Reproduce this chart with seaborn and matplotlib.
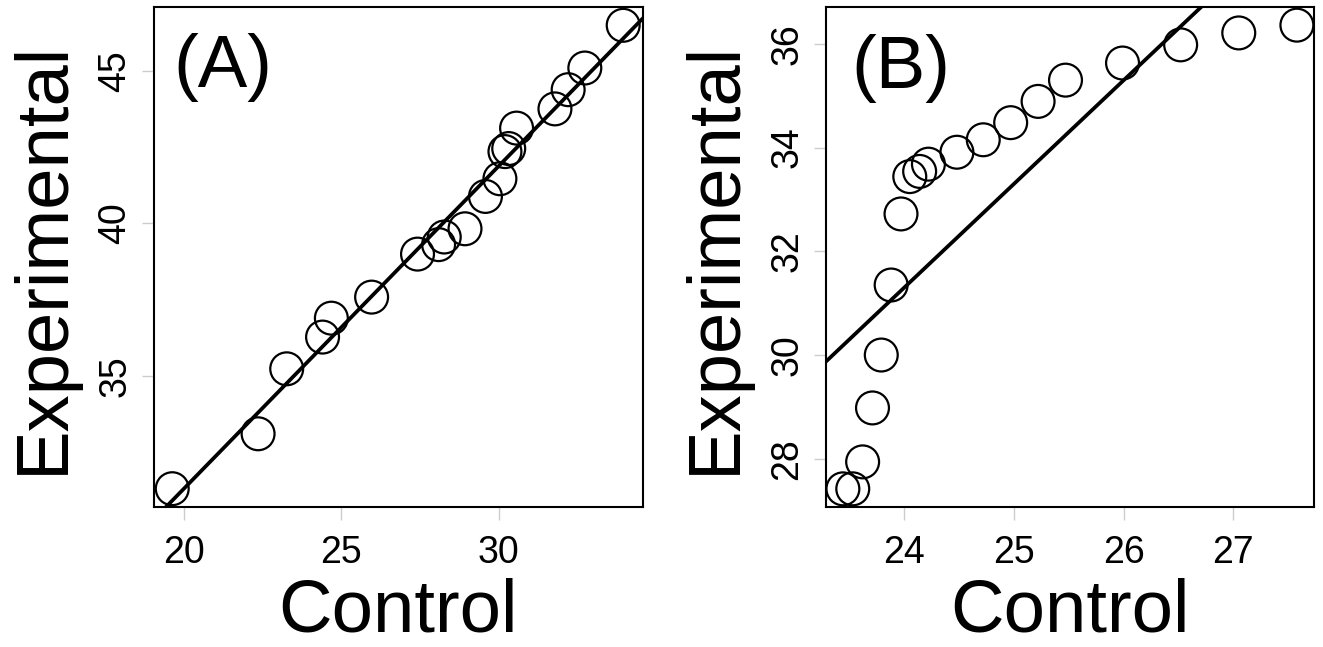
import matplotlib
matplotlib.use("Agg")
import matplotlib.pyplot as plt
import seaborn as sns
import numpy as np

# ---- data ----
A_control = [19.62, 22.35, 23.26, 24.40, 24.68, 25.96, 27.42, 28.09, 28.27, 28.93,
             29.58, 30.04, 30.20, 30.32, 30.57, 31.79, 32.21, 32.74, 33.96]
A_experimental = [31.30, 33.10, 35.23, 36.27, 36.89, 37.58, 38.99, 39.30, 39.55, 39.82,
                  40.88, 41.46, 42.35, 42.45, 43.12, 43.75, 44.38, 45.09, 46.49]
B_control = [23.44, 23.53, 23.62, 23.71, 23.79, 23.88, 23.97, 24.05, 24.14, 24.22,
             24.48, 24.72, 24.97, 25.22, 25.47, 25.99, 26.52, 27.05, 27.58]
B_experimental = [27.42, 27.42, 27.94, 28.98, 30.00, 31.35, 32.72, 33.44, 33.54, 33.68,
                  33.91, 34.15, 34.48, 34.89, 35.30, 35.63, 35.98, 36.21, 36.36]

A_xticks = [20, 25, 30]
A_yticks = [35, 40, 45]
B_xticks = [24, 25, 26, 27]
B_yticks = [28, 30, 32, 34, 36]
A_xlim = (19.04, 34.59)
A_ylim = (30.70, 47.09)
B_xlim = (23.286, 27.736)
B_ylim = (27.07, 36.71)
panel_labels = ["(A)", "(B)"]
x_label = "Control"
y_label = "Experimental"

sns.set_theme(style="white")
plt.rcParams["font.family"] = ["Liberation Sans", "DejaVu Sans"]

W, H = 1323, 647
fig = plt.figure(figsize=(W / 100, H / 100), dpi=100)


def px_axes(left, right, top, bottom):
    return fig.add_axes([left / W, 1 - bottom / H, (right - left) / W, (bottom - top) / H])


axA = px_axes(154, 643, 7, 507)
axB = px_axes(826, 1314, 7, 507)

panels = [
    (axA, A_control, A_experimental, A_xticks, A_yticks, A_xlim, A_ylim, panel_labels[0], (0.039, 0.84)),
    (axB, B_control, B_experimental, B_xticks, B_yticks, B_xlim, B_ylim, panel_labels[1], (0.053, 0.838)),
]

for ax, xs, ys, xt, yt, xl, yl, lab, pos in panels:
    ax.set_xlim(*xl)
    ax.set_ylim(*yl)
    sns.regplot(x=np.array(xs), y=np.array(ys), ax=ax, ci=None, truncate=False,
                scatter_kws=dict(color="black", facecolors="none", s=560,
                                 linewidths=1.6, alpha=1, zorder=3),
                line_kws=dict(color="black", lw=2.7, zorder=2))
    ax.set_xlim(*xl)
    ax.set_ylim(*yl)
    ax.set_xticks(xt)
    ax.set_yticks(yt)
    ax.set_xticklabels([str(v) for v in xt])
    ax.set_yticklabels([str(v) for v in yt])
    ax.tick_params(axis="both", which="major", direction="out", length=9, width=1,
                   color="#cccccc", labelsize=27, labelcolor="black", bottom=True, left=True)
    ax.tick_params(axis="x", pad=11)
    ax.tick_params(axis="y", pad=6, labelrotation=90)
    for t in ax.get_yticklabels():
        t.set_va("center")
    for s in ax.spines.values():
        s.set_visible(True)
        s.set_color("black")
        s.set_linewidth(1.5)
    ax.set_xlabel(x_label, fontsize=53.5, color="black", labelpad=5)
    ax.set_ylabel(y_label, fontsize=53.5, color="black", labelpad=14)
    ax.text(pos[0], pos[1], lab, transform=ax.transAxes, fontsize=53.5,
            ha="left", va="baseline", color="black")
    ax.grid(False)

fig.savefig("out.png", dpi=100, facecolor="white")
